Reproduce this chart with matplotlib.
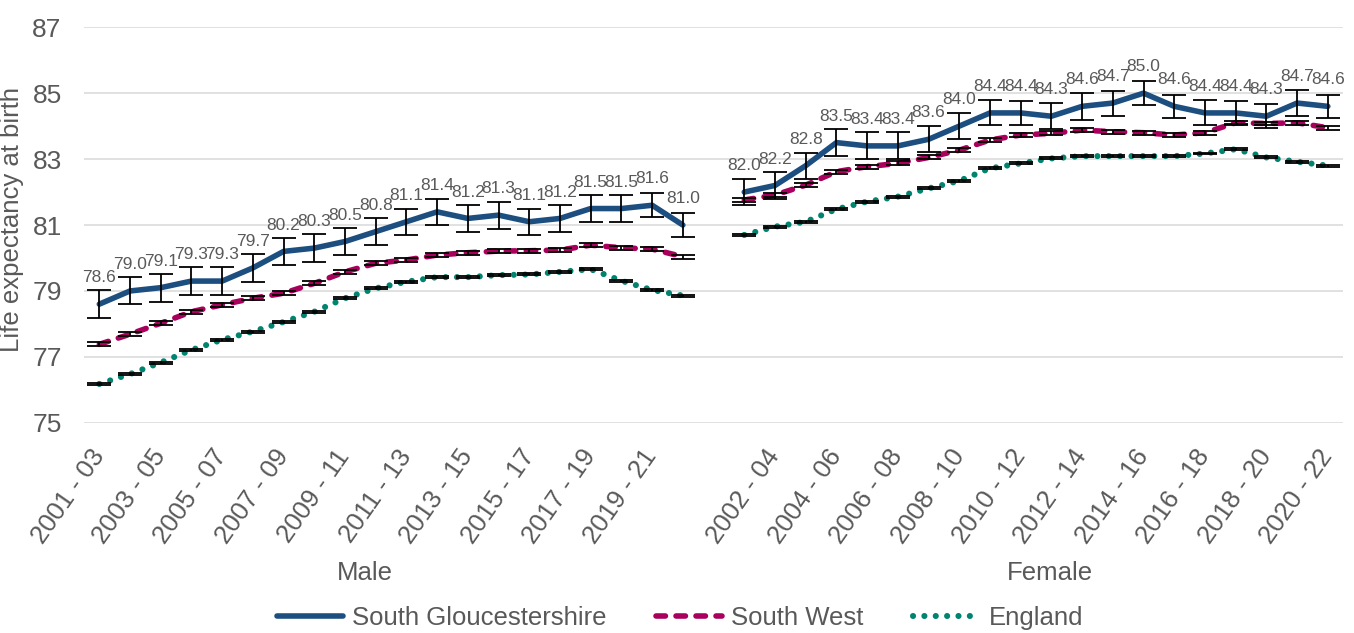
import numpy as np
import matplotlib.pyplot as plt

plt.rcParams['font.family'] = ['Liberation Sans', 'DejaVu Sans']

periods = ['2001 - 03', '2002 - 04', '2003 - 05', '2004 - 06', '2005 - 07',
           '2006 - 08', '2007 - 09', '2008 - 10', '2009 - 11', '2010 - 12',
           '2011 - 13', '2012 - 14', '2013 - 15', '2014 - 16', '2015 - 17',
           '2016 - 18', '2017 - 19', '2018 - 20', '2019 - 21', '2020 - 22']
groups = ['Male', 'Female']

# South Gloucestershire with 95% CI half-widths
sg_male = [78.6, 79.0, 79.1, 79.3, 79.3, 79.7, 80.2, 80.3, 80.5, 80.8,
           81.1, 81.4, 81.2, 81.3, 81.1, 81.2, 81.5, 81.5, 81.6, 81.0]
sg_male_err = [0.43, 0.41, 0.42, 0.42, 0.43, 0.43, 0.42, 0.42, 0.41, 0.41,
               0.40, 0.40, 0.42, 0.41, 0.39, 0.40, 0.40, 0.40, 0.37, 0.36]
sg_female = [82.0, 82.2, 82.8, 83.5, 83.4, 83.4, 83.6, 84.0, 84.4, 84.4,
             84.3, 84.6, 84.7, 85.0, 84.6, 84.4, 84.4, 84.3, 84.7, 84.6]
sg_female_err = [0.39, 0.42, 0.40, 0.41, 0.41, 0.41, 0.39, 0.39, 0.38, 0.36,
                 0.40, 0.40, 0.38, 0.37, 0.34, 0.38, 0.35, 0.37, 0.40, 0.35]

# South West
sw_male = [77.38, 77.69, 78.02, 78.37, 78.58, 78.78, 78.93, 79.23, 79.58, 79.84,
           79.94, 80.09, 80.16, 80.21, 80.22, 80.24, 80.39, 80.31, 80.27, 80.04]
sw_female = [81.76, 81.91, 82.21, 82.62, 82.77, 82.87, 83.05, 83.27, 83.58, 83.73,
             83.78, 83.88, 83.83, 83.80, 83.73, 83.80, 84.10, 84.08, 84.10, 83.95]
sw_err = 0.06

# England
eng_male = [76.18, 76.48, 76.83, 77.21, 77.52, 77.77, 78.06, 78.37, 78.78, 79.08,
            79.28, 79.42, 79.42, 79.48, 79.50, 79.58, 79.66, 79.31, 79.03, 78.86]
eng_female = [80.70, 80.95, 81.10, 81.48, 81.71, 81.86, 82.11, 82.34, 82.72, 82.87,
              83.02, 83.09, 83.09, 83.09, 83.09, 83.17, 83.30, 83.05, 82.92, 82.80]
eng_err = 0.03

c_sg = '#1C4E80'
c_sw = '#A8005C'
c_eng = '#00836F'
grey = '#595959'

LW = 4.0
SW_DASH = (1.7, 1.9)
ENG_LW = 4.4
ENG_DASH = (0.01, 1.85)

n = len(periods)
x_m = np.arange(n)
x_f = np.arange(n) + n + 1
all_labels = periods + [''] + periods

fig = plt.figure(figsize=(13.54, 6.33), dpi=100)
ax = fig.add_axes([0.062, 0.332, 0.930, 0.625])

for x, sg, sge, sw, eng in [(x_m, sg_male, sg_male_err, sw_male, eng_male),
                            (x_f, sg_female, sg_female_err, sw_female, eng_female)]:
    ax.plot(x, eng, color=c_eng, lw=ENG_LW, dashes=ENG_DASH,
            dash_capstyle='round', zorder=3)
    ax.plot(x, sw, color=c_sw, lw=LW, dashes=SW_DASH,
            dash_capstyle='round', zorder=3)
    ax.plot(x, sg, color=c_sg, lw=LW, solid_capstyle='round', zorder=4)
    for vals, err in [(eng, eng_err), (sw, sw_err), (sg, sge)]:
        ax.errorbar(x, vals, yerr=err, fmt='none', ecolor='black',
                    elinewidth=1.3, capsize=8.5, capthick=1.3, zorder=5)
    for xi, v in zip(x, sg):
        ax.annotate(f'{v:.1f}', (xi, v), xytext=(0, 19), textcoords='offset points',
                    ha='center', va='center', fontsize=12.5, color=grey)

ax.set_xlim(-0.5, 2 * n + 0.5)
ax.set_ylim(75, 87)
ax.set_yticks(np.arange(75, 88, 2))
ax.yaxis.grid(True, color='#D9D9D9', lw=1.1)
ax.set_axisbelow(True)
for s in ax.spines.values():
    s.set_visible(False)

ticks = np.arange(0, 2 * n + 1, 2)
ax.set_xticks(ticks)
ax.set_xticklabels([all_labels[i] for i in ticks], rotation=55,
                   rotation_mode='anchor', ha='right', va='center',
                   fontsize=18.5, color=grey)
ax.tick_params(axis='x', length=0, pad=21)
ax.tick_params(axis='y', length=0, pad=16, labelsize=19, labelcolor=grey)

ax.set_ylabel('Life expectancy at birth', fontsize=18.5, color=grey)
ax.yaxis.set_label_coords(-0.048, 0.515)

fig.text(365 / 1354, 1 - 573 / 633, groups[0], ha='center', va='center',
         fontsize=18.5, color=grey)
fig.text(1050 / 1354, 1 - 573 / 633, groups[1], ha='center', va='center',
         fontsize=18.5, color=grey)

h_sg = plt.Line2D([], [], color=c_sg, lw=LW, solid_capstyle='round')
h_sw = plt.Line2D([], [], color=c_sw, lw=LW, dashes=SW_DASH, dash_capstyle='round')
h_eng = plt.Line2D([], [], color=c_eng, lw=ENG_LW, dashes=ENG_DASH, dash_capstyle='round')
fig.legend([h_sg, h_sw, h_eng], ['South Gloucestershire', 'South West', 'England'],
           loc='center', bbox_to_anchor=(0.502, 0.024), ncol=3, frameon=False,
           fontsize=18.5, labelcolor=grey, handlelength=2.6, handletextpad=0.35,
           columnspacing=1.9)

fig.savefig('out.png', dpi=100)
